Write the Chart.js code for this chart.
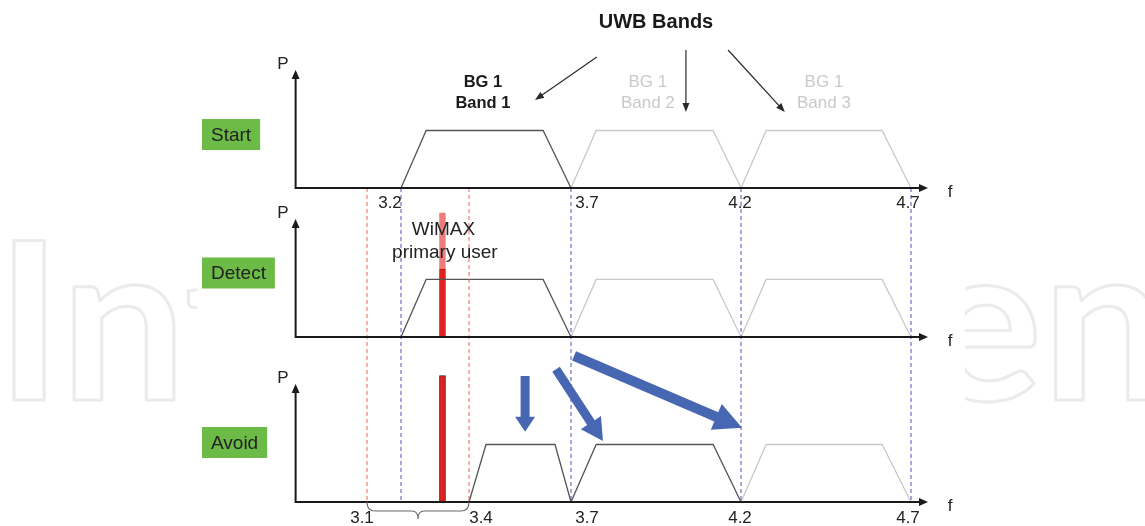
<!DOCTYPE html>
<html>
<head>
<meta charset="utf-8">
<script src="https://cdn.jsdelivr.net/npm/chart.js@4.4.0/dist/chart.umd.min.js"></script>
<style>
  html, body { margin: 0; padding: 0; background: #fff; }
  #wrap { width: 1145px; height: 526px; }
</style>
</head>
<body>
<div id="wrap"><canvas id="grafik_uwb" width="1145" height="526"></canvas></div>
<script>
// Data (frequency in GHz, P in band-height units)
var panel_names = ["Start", "Detect", "Avoid"];
var band_group = "BG 1";
var band_names = ["Band 1", "Band 2", "Band 3"];
var red_lines_f = [3.1, 3.4];
var blue_lines_f = [3.2, 3.7, 4.2, 4.7];
var ticks_start = [3.2, 3.7, 4.2, 4.7];
var ticks_avoid = [3.1, 3.4, 3.7, 4.2, 4.7];

// trapezoid corners of each band
var band1_f = [3.2, 3.274, 3.618, 3.7];
var band2_f = [3.7, 3.774, 4.118, 4.2];
var band3_f = [4.2, 4.274, 4.615, 4.7];
var avoid_band_f = [3.4, 3.45, 3.653, 3.7];
var band_p = [0, 1, 1, 0];

// WiMAX primary user
var wimax_f = 3.322;
var wimax_detect_p = 2.157;
var wimax_detect_solid_p = 1.18;
var wimax_avoid_p = 2.2;

// layout: baseline of each panel on the shared y scale
var panel_base = [5.461, 2.87, 0];
var dark = "#555555";
var light = "#c9c9c9";

function band_line(f_list, base, color) {
  return {
    type: "line",
    data: f_list.map(function (f, i) { return { x: f, y: base + band_p[i] }; }),
    borderColor: color,
    borderWidth: 1.3,
    pointRadius: 0,
    fill: false,
    tension: 0
  };
}

function dashed_line(f, color) {
  return {
    type: "line",
    data: [{ x: f, y: panel_base[0] }, { x: f, y: panel_base[2] }],
    borderColor: color,
    borderWidth: 1,
    borderDash: [4, 3],
    pointRadius: 0,
    fill: false
  };
}

function red_bar(lo, hi, fillColor, lineColor) {
  return {
    type: "bar",
    data: [{ x: wimax_f, y: [lo, hi] }],
    backgroundColor: fillColor,
    borderColor: lineColor,
    borderWidth: 1,
    borderSkipped: false,
    barThickness: 6,
    grouped: false
  };
}

var datasets = [];
red_lines_f.forEach(function (f) { datasets.push(dashed_line(f, "#ea6552")); });
blue_lines_f.forEach(function (f) { datasets.push(dashed_line(f, "#5050b4")); });

// Start + Detect: band 1 active, bands 2 and 3 gray
[0, 1].forEach(function (k) {
  datasets.push(band_line(band1_f, panel_base[k], dark));
  datasets.push(band_line(band2_f, panel_base[k], light));
  datasets.push(band_line(band3_f, panel_base[k], light));
});
// Avoid: moved band + band 2 active
datasets.push(band_line(avoid_band_f, panel_base[2], dark));
datasets.push(band_line(band2_f, panel_base[2], dark));
datasets.push(band_line(band3_f, panel_base[2], light));

datasets.push(red_bar(panel_base[1], panel_base[1] + wimax_detect_solid_p, "#e3201c", "#b51512"));
datasets.push(red_bar(panel_base[1] + wimax_detect_solid_p, panel_base[1] + wimax_detect_p, "#ee7b78", "#ee7b78"));
datasets.push(red_bar(panel_base[2], panel_base[2] + wimax_avoid_p, "#e3201c", "#3a1010"));

// annotation helpers
function block_arrow(c, x0, y0, x1, y1, shaft, headW, headL, color) {
  var a = Math.atan2(y1 - y0, x1 - x0);
  var len = Math.hypot(x1 - x0, y1 - y0);
  c.save();
  c.translate(x0, y0);
  c.rotate(a);
  c.beginPath();
  c.moveTo(0, -shaft / 2);
  c.lineTo(len - headL, -shaft / 2);
  c.lineTo(len - headL, -headW / 2);
  c.lineTo(len, 0);
  c.lineTo(len - headL, headW / 2);
  c.lineTo(len - headL, shaft / 2);
  c.lineTo(0, shaft / 2);
  c.closePath();
  c.fillStyle = color;
  c.fill();
  c.restore();
}

function thin_arrow(c, x0, y0, x1, y1) {
  var a = Math.atan2(y1 - y0, x1 - x0);
  c.save();
  c.strokeStyle = "#2a2a2a";
  c.fillStyle = "#2a2a2a";
  c.lineWidth = 1.2;
  c.beginPath();
  c.moveTo(x0, y0);
  c.lineTo(x1 - 7 * Math.cos(a), y1 - 7 * Math.sin(a));
  c.stroke();
  c.translate(x1, y1);
  c.rotate(a);
  c.beginPath();
  c.moveTo(0, 0);
  c.lineTo(-9, -3.5);
  c.lineTo(-9, 3.5);
  c.closePath();
  c.fill();
  c.restore();
}

var font_main = "'Liberation Sans', Arial, sans-serif";
var tick_shift = { 3.1: -5, 3.2: -11, 3.4: 12, 3.7: 16, 4.2: -1, 4.7: -3 };

var diagram_plugin = {
  id: "diagram",
  beforeDraw: function (chart) {
    var c = chart.ctx;
    c.save();
    c.fillStyle = "#fff";
    c.fillRect(0, 0, chart.width, chart.height);
    // faint watermark behind the figure
    c.font = "bold 220px Lato";
    var w = c.measureText("IntechOpen").width;
    c.translate(-4, 400);
    c.scale(1172 / w, 1);
    c.strokeStyle = "#ebebeb";
    c.lineWidth = 3;
    c.lineJoin = "round";
    c.strokeText("IntechOpen", 0, 0);
    c.restore();
    c.fillStyle = "#fff";
    c.fillRect(197, 0, 768, chart.height);
  },
  afterDatasetsDraw: function (chart) {
    var c = chart.ctx;
    var xs = chart.scales.x, ys = chart.scales.y;
    var X = function (f) { return xs.getPixelForValue(f); };
    var Y = function (k, p) { return ys.getPixelForValue(panel_base[k] + p); };
    c.save();

    // axes with arrow heads
    panel_names.forEach(function (name, k) {
      var x0 = X(2.89), x1 = X(4.75), yb = Y(k, 0), yt = Y(k, 2.05);
      c.strokeStyle = "#1a1a1a";
      c.fillStyle = "#1a1a1a";
      c.lineWidth = 2;
      c.beginPath();
      c.moveTo(x0, yt + 6);
      c.lineTo(x0, yb);
      c.lineTo(x1 - 6, yb);
      c.stroke();
      c.beginPath();
      c.moveTo(x0, yt); c.lineTo(x0 - 4, yt + 9); c.lineTo(x0 + 4, yt + 9);
      c.closePath(); c.fill();
      c.beginPath();
      c.moveTo(x1, yb); c.lineTo(x1 - 9, yb - 4); c.lineTo(x1 - 9, yb + 4);
      c.closePath(); c.fill();

      c.font = "17px " + font_main;
      c.textAlign = "center";
      c.textBaseline = "middle";
      c.fillStyle = "#222";
      c.fillText("P", X(2.853), Y(k, 2.15));
      c.fillText("f", X(4.815), Y(k, -0.08));
    });

    // green step boxes
    var box_p = [0.93, 1.113, 1.035];
    c.font = "19px " + font_main;
    panel_names.forEach(function (name, k) {
      var tw = c.measureText(name).width;
      var bx = X(2.6147), by = Y(k, box_p[k]);
      c.fillStyle = "#6cbb47";
      c.fillRect(bx, by - 15.5, tw + 18, 31);
      c.fillStyle = "#222";
      c.textAlign = "left";
      c.textBaseline = "middle";
      c.fillText(name, bx + 9, by + 1);
    });

    // tick labels
    c.font = "17px " + font_main;
    c.fillStyle = "#222";
    c.textAlign = "center";
    c.textBaseline = "middle";
    ticks_start.forEach(function (f) { c.fillText(String(f), X(f) + tick_shift[f], Y(0, -0.27)); });
    ticks_avoid.forEach(function (f) { c.fillText(String(f), X(f) + tick_shift[f], Y(2, -0.28)); });

    // titles
    c.font = "bold 20px " + font_main;
    c.fillStyle = "#1a1a1a";
    c.fillText("UWB Bands", X(3.95), Y(0, 2.887));
    var label_f = [3.441, 3.926, 4.444];
    band_names.forEach(function (b, i) {
      c.font = (i === 0 ? "bold 16.5px " : "17px ") + font_main;
      c.fillStyle = i === 0 ? "#1a1a1a" : light;
      c.fillText(band_group, X(label_f[i]), Y(0, 1.843));
      c.fillText(b, X(label_f[i]), Y(0, 1.478));
    });

    c.font = "19px " + font_main;
    c.fillStyle = "#222";
    c.fillText("WiMAX", X(3.325), Y(1, 1.861));
    c.fillText("primary user", X(3.329), Y(1, 1.461));

    // arrows from the title
    thin_arrow(c, X(3.776), Y(0, 2.278), X(3.594), Y(0, 1.53));
    thin_arrow(c, X(4.038), Y(0, 2.4), X(4.038), Y(0, 1.322));
    thin_arrow(c, X(4.162), Y(0, 2.4), X(4.329), Y(0, 1.322));

    // blue move arrows in Avoid
    var blue = "#4767b3";
    block_arrow(c, X(3.565), Y(2, 2.19), X(3.565), Y(2, 1.22), 9, 20, 15, blue);
    block_arrow(c, X(3.656), Y(2, 2.31), X(3.794), Y(2, 1.06), 9, 24, 22, blue);
    block_arrow(c, X(3.709), Y(2, 2.54), X(4.203), Y(2, 1.29), 10, 28, 28, blue);

    // brace under 3.1 - 3.4
    var bl = X(3.1), br = X(3.4), bm = (bl + br) / 2, yb = Y(2, 0);
    c.strokeStyle = "#6a6a6a";
    c.lineWidth = 1.2;
    c.beginPath();
    c.moveTo(bl, yb);
    c.quadraticCurveTo(bl, yb + 9, bl + 8, yb + 9);
    c.lineTo(bm - 6, yb + 9);
    c.quadraticCurveTo(bm, yb + 9, bm, yb + 17);
    c.quadraticCurveTo(bm, yb + 9, bm + 6, yb + 9);
    c.lineTo(br - 8, yb + 9);
    c.quadraticCurveTo(br, yb + 9, br, yb);
    c.stroke();

    c.restore();
  }
};

var config = {
  type: "line",
  data: { datasets: datasets },
  options: {
    responsive: false,
    animation: false,
    devicePixelRatio: 1,
    layout: { padding: 0 },
    plugins: { legend: { display: false }, tooltip: { enabled: false } },
    scales: {
      x: { type: "linear", min: 2.0206, max: 5.3882, offset: false, display: false },
      y: { type: "linear", min: -0.4174, max: 8.7304, display: false }
    }
  },
  plugins: [diagram_plugin]
};

var grafik = document.getElementById("grafik_uwb").getContext("2d");
var grafik_uwb = new Chart(grafik, config);
</script>
</body>
</html>
